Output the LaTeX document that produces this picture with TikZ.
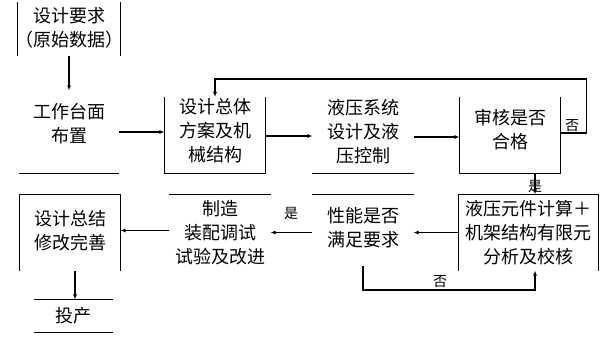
\documentclass[tikz,border=0pt]{standalone}
\usepackage{fontspec}
\setmainfont{Noto Sans CJK SC}
\usetikzlibrary{arrows.meta}
\begin{document}
\begin{tikzpicture}[x=1pt,y=-1pt,
  line width=1.1pt,
  frame/.style={draw=none,minimum width=#1,inner sep=0pt},
  txt/.style={align=center,font=\fontsize{18}{24}\selectfont,inner sep=0pt},
  lbl/.style={font=\fontsize{14}{14}\selectfont,inner sep=1pt},
  arr/.style={-{Latex[length=5pt,width=4pt]}}]
\useasboundingbox (0,0) rectangle (613,338);
% box outlines (invisible nodes)
\node[frame=102pt,minimum height=52pt] (n0) at (69,29) {};
\node[frame=98pt,minimum height=76pt] (n1) at (69,135) {};
\node[frame=100pt,minimum height=75pt] (n2) at (215,135) {};
\node[frame=100pt,minimum height=76pt] (n3) at (363,135) {};
\node[frame=100pt,minimum height=75pt] (n4) at (510,135) {};
\node[frame=139pt,minimum height=75pt] (n5) at (528.5,232.5) {};
\node[frame=100pt,minimum height=70pt] (n6) at (363,230) {};
\node[frame=100pt,minimum height=75pt] (n7) at (220,232.5) {};
\node[frame=100pt,minimum height=75pt] (n8) at (70,232.5) {};
\node[frame=77pt,minimum height=32pt] (n9) at (73.5,316) {};
% texts
\node[txt] (t0) at (69,28) {设计要求\\（原始数据）};
\node[txt] (t1) at (69,124) {工作台面\\布置};
\node[txt] (t2) at (215,131) {设计总体\\方案及机\\械结构};
\node[txt] (t3) at (363,132) {液压系统\\设计及液\\压控制};
\node[txt] (t4) at (510,130) {审核是否\\合格};
\node[txt] (t5) at (528.5,233) {液压元件计算＋\\机架结构有限元\\分析及校核};
\node[txt] (t6) at (363,228) {性能是否\\满足要求};
\node[txt] (t7) at (220,233) {制造\\装配调试\\试验及改进};
\node[txt] (t8) at (70,231) {设计总结\\修改完善};
\node[txt] (t9) at (73.5,316) {投产};
% shapes
\draw (n0.north west) -- (n0.south west) (n0.north east) -- (n0.south east);
\draw (n1.south west) -- (n1.south east);
\draw (n2.north west) -- (n2.south west) -- (n2.south east) -- (n2.north east);
\draw (n3.south west) -- (n3.south east);
\draw (n4.north west) -- (n4.south west) -- (n4.south east) -- (n4.north east);
\draw (n5.south west) -- (n5.north west) -- (n5.north east) -- (n5.south east);
\draw (n6.north west) -- (n6.north east);
\draw (n7.north west) -- (n7.north east);
\draw (n8.south west) -- (n8.north west) -- (n8.north east) -- (n8.south east);
\draw (n9.north west) -- (n9.north east) (n9.south west) -- (n9.south east);
% connectors
\draw[arr] (n0.south) -- ([yshift=-35pt]n0.south);
\draw[arr] ([yshift=3pt]n1.east) -- ([yshift=3pt]n2.west);
\draw[arr] ([yshift=-1pt]n2.east) -- ([yshift=-1pt]n3.west);
\draw[arr] ([yshift=-2pt]n3.east) -- ([yshift=-2pt]n4.west);
\draw[arr] ([yshift=2pt]n4.east) -- ++(26,0) coordinate (c1) |- (n2.north |- 0,79) -- (n2.north);
\node[lbl] at (572,126) {否};
\draw[arr] (n4.south -| 535,0) -- (n5.north -| 535,0);
\node[lbl] at (535,186) {是};
\draw[arr] (n5.west) -- (n6.east |- n5.west);
\draw[arr] (n6.west |- n5.west) -- (n7.east |- n5.west);
\node[lbl] at (291,213) {是};
\draw[arr] (n6.south) -- (363,290) -| (n5.south -| 535,0);
\node[lbl,anchor=south] at (440,289) {否};
\draw[arr] ([yshift=2pt]n7.west) -- ([yshift=2pt]n8.east);
\draw[arr] (n8.south -| 75,0) -- (n9.north -| 75,0);
\end{tikzpicture}
\end{document}
